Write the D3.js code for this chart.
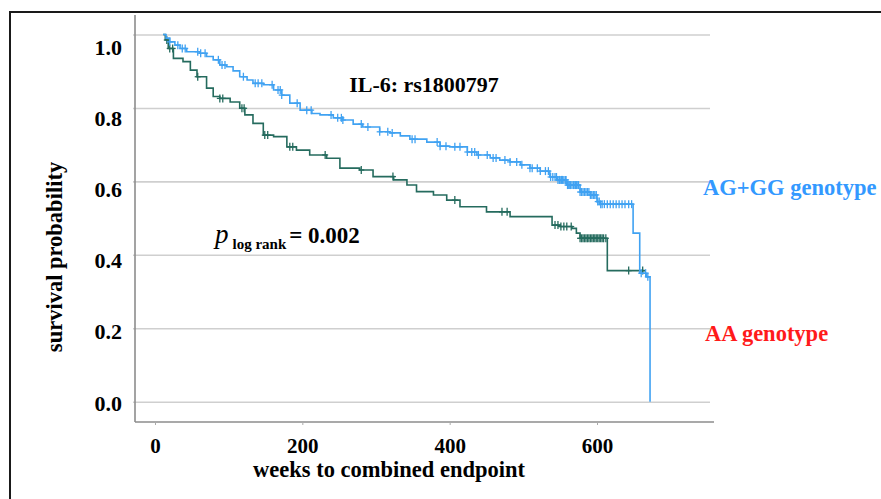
<!DOCTYPE html>
<html>
<head>
<meta charset="utf-8">
<script src="https://cdn.jsdelivr.net/npm/d3@7"></script>
<style>
  body { margin: 0; background: #fff; }
  text { font-family: "Liberation Serif", "Times New Roman", serif; font-weight: bold; }
  .grid line { stroke: #cfcfcf; stroke-width: 1.6; }
  .grid path { display: none; }
</style>
</head>
<body>
<div id="chart"></div>
<script>
// Kaplan-Meier curves, IL-6 rs1800797
var blueTimes = [11, 15, 20, 27, 34, 43, 61, 70, 79, 88, 97, 106, 115, 125, 133, 147, 161, 172, 183, 197, 213, 224, 242, 255, 269, 282, 305, 319, 333, 346, 369, 387, 400, 424, 437, 455, 468, 482, 496, 509, 523, 536, 546, 559, 577, 591, 600, 604, 649, 658, 667, 672];
var blueSurv = [1.0, 0.990, 0.980, 0.971, 0.962, 0.953, 0.949, 0.940, 0.931, 0.917, 0.912, 0.901, 0.885, 0.876, 0.867, 0.863, 0.849, 0.835, 0.813, 0.794, 0.785, 0.781, 0.773, 0.767, 0.756, 0.748, 0.735, 0.732, 0.724, 0.715, 0.707, 0.696, 0.694, 0.680, 0.672, 0.664, 0.658, 0.653, 0.645, 0.636, 0.628, 0.612, 0.604, 0.590, 0.571, 0.563, 0.545, 0.538, 0.459, 0.350, 0.340, 0.0];
var blueCensor = [20, 31, 37, 41, 58, 62, 68, 86, 91, 95, 120, 136, 140, 145, 159, 167, 170, 172, 193, 206, 212, 239, 248, 253, 255, 280, 289, 305, 316, 322, 349, 353, 383, 387, 395, 407, 414, 424, 430, 434, 439, 451, 459, 463, 475, 482, 491, 498, 509, 512, 519, 523, 530, 534, 537, 540, 543, 545, 547, 549, 550, 552, 553, 555, 557, 558, 560, 561, 563, 564, 566, 568, 569, 571, 572, 574, 575, 577, 579, 581, 583, 585, 587, 589, 591, 593, 595, 597, 599, 601, 603, 605, 607, 610, 614, 618, 622, 626, 630, 634, 638, 643, 647, 660, 666, 669];

var greenTimes = [11, 14, 18, 25, 38, 48, 57, 70, 79, 88, 102, 115, 122, 133, 147, 161, 179, 192, 210, 233, 251, 278, 296, 324, 342, 355, 378, 396, 414, 450, 482, 539, 550, 566, 572, 577, 614, 665];
var greenSurv = [1.0, 0.985, 0.962, 0.935, 0.926, 0.903, 0.885, 0.854, 0.831, 0.826, 0.816, 0.799, 0.781, 0.758, 0.726, 0.722, 0.694, 0.685, 0.672, 0.663, 0.636, 0.631, 0.613, 0.604, 0.590, 0.572, 0.563, 0.549, 0.531, 0.517, 0.504, 0.481, 0.477, 0.472, 0.459, 0.445, 0.357, 0.357];
var greenCensor = [16, 20, 24, 58, 88, 92, 118, 121, 149, 153, 183, 187, 231, 280, 323, 407, 471, 478, 543, 547, 551, 555, 559, 565, 577, 579, 581, 583, 585, 587, 589, 591, 593, 595, 597, 599, 601, 603, 605, 607, 609, 612, 643, 662];

var xTicks = [0, 200, 400, 600];
var yTicks = [0, 0.2, 0.4, 0.6, 0.8, 1.0];

var blueColor = "#40a2f2";
var greenColor = "#256b5e";

function drawChart(id) {
    var W = 881, H = 499;
    var margin = { top: 15, left: 135 };
    var width = 579;   // plot box width
    var height = 407;  // plot box height

    var svg = d3.select('#' + id)
        .append('svg')
        .attr('width', W)
        .attr('height', H);

    // outer frame of the figure
    svg.append('rect')
        .attr('x', 10).attr('y', 12)
        .attr('width', 890).attr('height', 520)
        .attr('fill', 'none')
        .attr('stroke', '#1a1a1a')
        .attr('stroke-width', 2);

    var g = svg.append('g')
        .attr('transform', `translate(${margin.left}, ${margin.top})`);

    var xScale = d3.scaleLinear().domain([0, 600]).range([20, 462]);
    var yScale = d3.scaleLinear().domain([0, 1]).range([386.7, 19.5]);
    // tick labels sit a little off the gridlines in the original
    var yLabelScale = d3.scaleLinear().domain([0, 1]).range([388, 32]);

    // horizontal gridlines
    g.append('g')
        .attr('class', 'grid')
        .attr('transform', 'translate(-2, 0)')
        .call(d3.axisLeft(yScale)
            .tickValues(yTicks)
            .tickSize(-577)
            .tickFormat(''));

    // axis lines
    g.append('line')
        .attr('x1', 0).attr('x2', 0)
        .attr('y1', 0).attr('y2', height)
        .attr('stroke', '#8c8c8c').attr('stroke-width', 1.6);
    g.append('line')
        .attr('x1', 0).attr('x2', width)
        .attr('y1', height).attr('y2', height)
        .attr('stroke', '#8c8c8c').attr('stroke-width', 1.6);

    var xAxis = g.append('g')
        .attr('transform', `translate(0, ${height})`)
        .call(d3.axisBottom(xScale)
            .tickValues(xTicks)
            .tickSize(3)
            .tickPadding(13)
            .tickFormat(d3.format('d')));
    xAxis.select('.domain').remove();
    xAxis.selectAll('line').attr('stroke', '#aaa');
    xAxis.selectAll('text')
        .attr('fill', '#000')
        .style('font-size', '21px');

    var yAxis = g.append('g')
        .call(d3.axisLeft(yLabelScale)
            .tickValues(yTicks)
            .tickSize(0)
            .tickPadding(13)
            .tickFormat(d3.format('.1f')));
    yAxis.select('.domain').remove();
    yAxis.selectAll('text')
        .attr('fill', '#000')
        .style('font-size', '22px');

    // step curves
    var line = d3.line()
        .x(d => xScale(d[0]))
        .y(d => yScale(d[1]))
        .curve(d3.curveStepAfter);

    function survAt(times, surv, t) {
        var i = d3.bisectRight(times, t) - 1;
        return surv[Math.max(i, 0)];
    }

    function drawCurve(times, surv, censor, color) {
        g.append('path')
            .datum(d3.zip(times, surv))
            .attr('fill', 'none')
            .attr('stroke', color)
            .attr('stroke-width', 1.6)
            .attr('d', line);

        var marks = g.append('g')
            .selectAll('g')
            .data(censor)
            .enter()
            .append('g')
            .attr('transform', d => `translate(${xScale(d)}, ${yScale(survAt(times, surv, d))})`)
            .attr('stroke', color)
            .attr('stroke-width', 1.3);
        marks.append('line').attr('x1', 0).attr('x2', 0).attr('y1', -4).attr('y2', 4);
        marks.append('line').attr('x1', -3).attr('x2', 3).attr('y1', 0).attr('y2', 0);
    }

    drawCurve(greenTimes, greenSurv, greenCensor, greenColor);
    drawCurve(blueTimes, blueSurv, blueCensor, blueColor);

    // titles and annotations
    svg.append('text')
        .attr('x', 424).attr('y', 92)
        .attr('text-anchor', 'middle')
        .style('font-size', '22px')
        .text('IL-6: rs1800797');

    var p = svg.append('text')
        .attr('x', 215).attr('y', 243);
    p.append('tspan')
        .style('font-size', '27px')
        .style('font-style', 'italic')
        .style('font-weight', 'normal')
        .text('p');
    p.append('tspan')
        .attr('dx', 4).attr('dy', 6)
        .style('font-size', '15px')
        .text('log rank');
    p.append('tspan')
        .attr('dx', 3).attr('dy', -6)
        .style('font-size', '23px')
        .text('= 0.002');

    svg.append('text')
        .attr('x', 703).attr('y', 195)
        .attr('fill', '#3399ff')
        .style('font-size', '22.5px')
        .text('AG+GG genotype');

    svg.append('text')
        .attr('x', 705).attr('y', 341)
        .attr('fill', '#ff1a1a')
        .style('font-size', '22.5px')
        .text('AA genotype');

    svg.append('text')
        .attr('x', 389).attr('y', 477)
        .attr('text-anchor', 'middle')
        .style('font-size', '22.5px')
        .text('weeks to combined endpoint');

    svg.append('text')
        .attr('transform', 'translate(62, 257) rotate(-90)')
        .attr('text-anchor', 'middle')
        .style('font-size', '22.5px')
        .text('survival probability');
}

drawChart('chart');
</script>
</body>
</html>
